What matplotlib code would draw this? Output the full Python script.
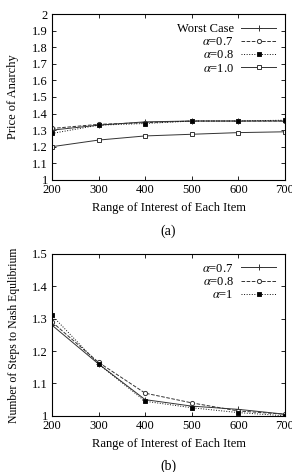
import matplotlib
matplotlib.use('Agg')
import matplotlib.pyplot as plt

plt.rcParams['font.family'] = ['Liberation Serif', 'DejaVu Serif']
plt.rcParams['font.size'] = 8.5
plt.rcParams['mathtext.fontset'] = 'stix'

# 数据
ranges = [200, 300, 400, 500, 600, 700]

poa_worst = [1.30, 1.33, 1.35, 1.355, 1.355, 1.355]
poa_a07 = [1.31, 1.335, 1.345, 1.355, 1.355, 1.355]
poa_a08 = [1.28, 1.33, 1.34, 1.355, 1.355, 1.36]
poa_a10 = [1.20, 1.24, 1.265, 1.275, 1.285, 1.29]

steps_a07 = [1.28, 1.16, 1.05, 1.03, 1.02, 1.005]
steps_a08 = [1.29, 1.165, 1.07, 1.04, 1.015, 1.005]
steps_a1 = [1.31, 1.16, 1.045, 1.025, 1.01, 1.0]

fig = plt.figure(figsize=(2.92, 4.72), dpi=100)
ax1 = fig.add_axes([0.178, 0.619, 0.798, 0.351])
ax2 = fig.add_axes([0.178, 0.119, 0.798, 0.343])

lw = 0.7
ax1.plot(ranges, poa_worst, '-', color='#333333', lw=lw, marker='+', ms=4, mew=0.7, label='Worst Case')
ax1.plot(ranges, poa_a07, '--', color='#333333', lw=lw, marker='o', ms=3, mfc='white', mew=0.7, label=r'$\alpha$=0.7')
ax1.plot(ranges, poa_a08, ':', color='#111111', lw=lw, marker='s', ms=2.5, mfc='black', mew=0.7, label=r'$\alpha$=0.8')
ax1.plot(ranges, poa_a10, '-', color='#333333', lw=lw, marker='s', ms=3, mfc='white', mew=0.7, label=r'$\alpha$=1.0')

ax2.plot(ranges, steps_a07, '-', color='#333333', lw=lw, marker='+', ms=4, mew=0.7, label=r'$\alpha$=0.7')
ax2.plot(ranges, steps_a08, '--', color='#333333', lw=lw, marker='o', ms=3, mfc='white', mew=0.7, label=r'$\alpha$=0.8')
ax2.plot(ranges, steps_a1, ':', color='#111111', lw=lw, marker='s', ms=2.5, mfc='black', mew=0.7, label=r'$\alpha$=1')

ax1.set_ylim(1, 2)
ax1.set_yticks([1, 1.1, 1.2, 1.3, 1.4, 1.5, 1.6, 1.7, 1.8, 1.9, 2])
ax1.set_yticklabels(['1', '1.1', '1.2', '1.3', '1.4', '1.5', '1.6', '1.7', '1.8', '1.9', '2'])
ax1.set_ylabel('Price of Anarchy', fontsize=9, labelpad=9)

ax2.set_ylim(1, 1.5)
ax2.set_yticks([1, 1.1, 1.2, 1.3, 1.4, 1.5])
ax2.set_yticklabels(['1', '1.1', '1.2', '1.3', '1.4', '1.5'])
ax2.set_ylabel('Number of Steps to Nash Equlibrium', fontsize=8.5, labelpad=9)

for ax, tag in [(ax1, '(a)'), (ax2, '(b)')]:
    ax.set_xlim(200, 700)
    ax.set_xticks(ranges)
    ax.set_xlabel('Range of Interest of Each Item', fontsize=9, labelpad=4)
    ax.tick_params(direction='in', top=True, right=True, length=3, width=0.6, pad=3, labelsize=9)
    for s in ax.spines.values():
        s.set_linewidth(0.8)
    ax.legend(loc='upper right', frameon=False, markerfirst=False, handlelength=2.8,
              borderaxespad=0.3, labelspacing=0.1, handletextpad=0.6, alignment='right', fontsize=9)
    ax.text(0.5, -0.27, tag, transform=ax.transAxes, ha='center', va='top', fontsize=10)

fig.savefig('out.png', dpi=100)
